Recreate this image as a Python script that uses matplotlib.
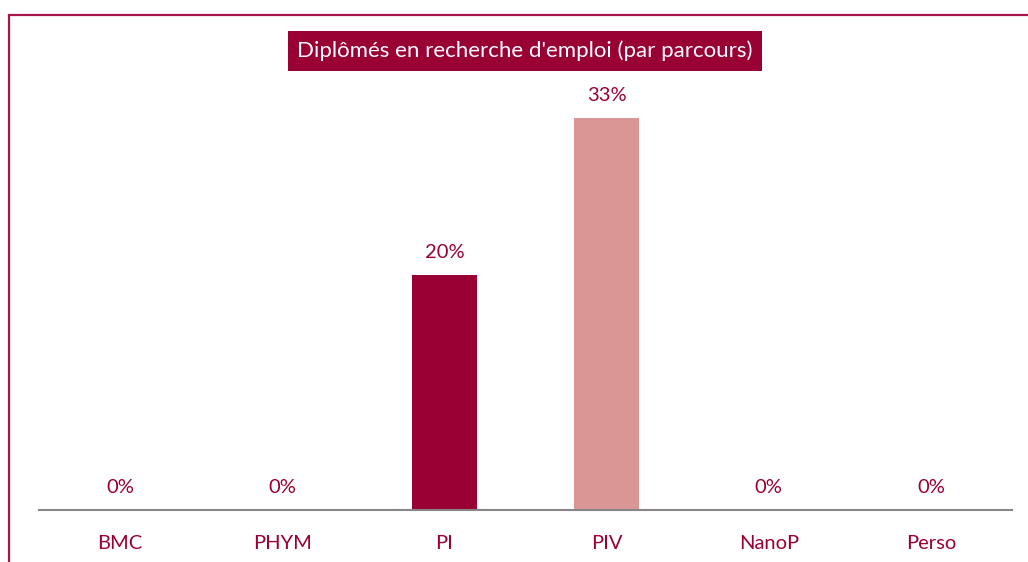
import matplotlib.pyplot as plt
from matplotlib.patches import Rectangle

# ====== DATA =======
categories = ["BMC", "PHYM", "PI", "PIV", "NanoP", "Perso"]
values = [0.0, 0.0, 0.20, 1 / 3, 0.0, 0.0]
labels = ["0%", "0%", "20%", "33%", "0%", "0%"]
bar_colors = ["#990033", "#990033", "#990033", "#D99694", "#990033", "#990033"]

title = "Diplômés en recherche d'emploi (par parcours)"
dark_red = "#990033"

plt.rcParams['font.family'] = ['Lato', 'DejaVu Sans']

W, H = 1028, 562
fig = plt.figure(figsize=(W / 100, H / 100), dpi=100)

# frame around the chart (open at right / bottom edges)
fig.patches.append(Rectangle((9 / W, -0.1), 1.2, 1 - 15 / H + 0.1,
                             transform=fig.transFigure, fill=False,
                             edgecolor="#A8144C", linewidth=1.6))

# axes placed in pixels: x 39..1012, baseline at y=510
ymax = 0.35
px_per_unit = (510 - 275) / 0.20
top_px = 510 - ymax * px_per_unit
ax = fig.add_axes([39 / W, (H - 510) / H, (1012 - 39) / W, (510 - top_px) / H])

x = range(len(categories))
ax.bar(x, values, width=0.4, color=bar_colors)
ax.set_xlim(-0.5, len(categories) - 0.5)
ax.set_ylim(0, ymax)

for i, (v, lab) in enumerate(zip(values, labels)):
    ax.annotate(lab, (i, v), xytext=(0, 14), textcoords="offset pixels",
                ha="center", va="bottom", color=dark_red, fontsize=14.5)

ax.set_xticks(list(x))
ax.set_xticklabels(categories, color=dark_red, fontsize=14.5)
ax.tick_params(axis="x", length=0, pad=18)
ax.set_yticks([])
for s in ["top", "right", "left"]:
    ax.spines[s].set_visible(False)
ax.spines["bottom"].set_color("#868686")
ax.spines["bottom"].set_linewidth(1.5)

# title in a filled box
fig.text(525 / W, 1 - 51 / H, title, ha="center", va="center",
         color="white", fontsize=16,
         bbox=dict(boxstyle="square,pad=0.42", facecolor=dark_red,
                   edgecolor="none"))

plt.savefig("out.png", dpi=100)
